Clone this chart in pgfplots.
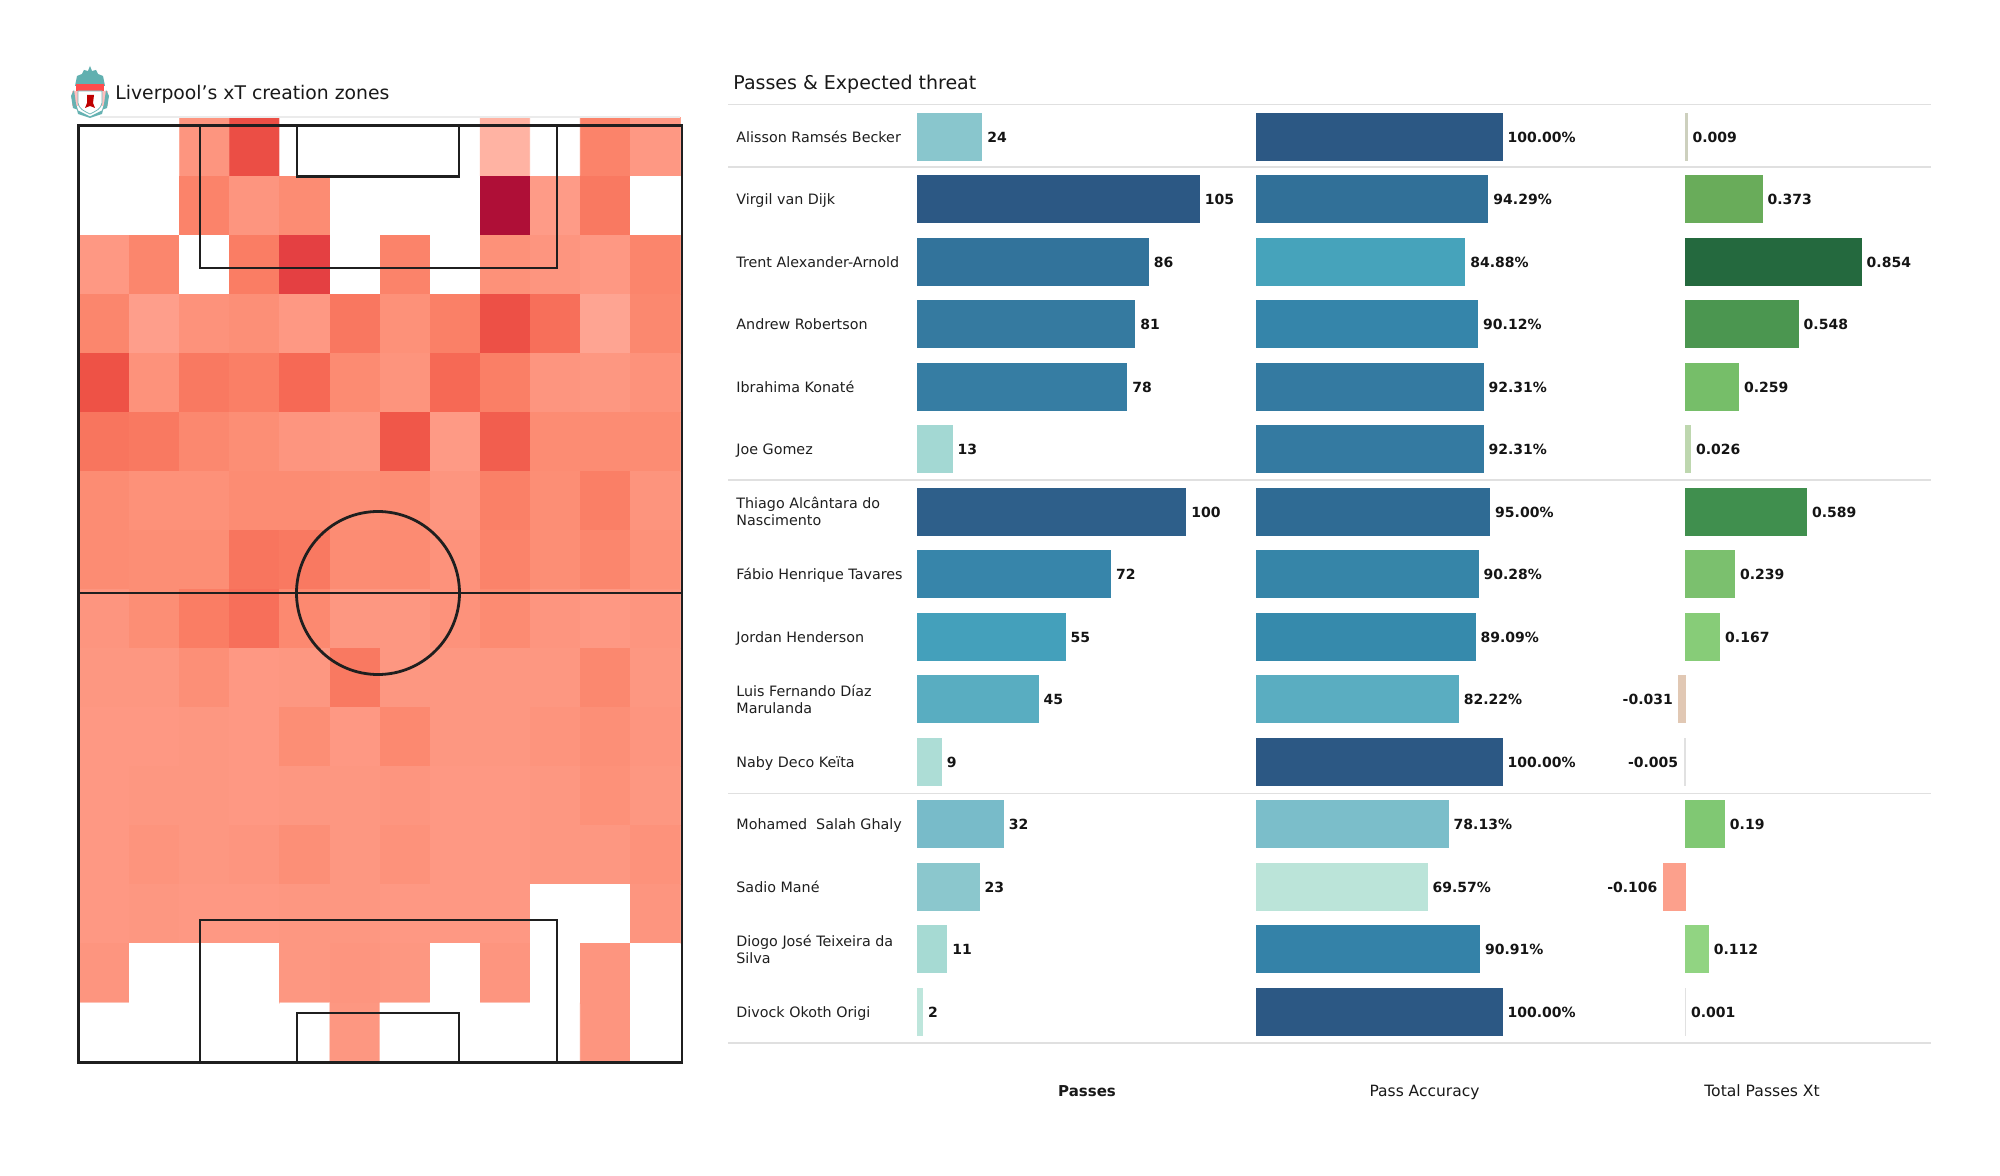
\documentclass[border=0pt]{standalone}
\usepackage{pgfplots}
\pgfplotsset{compat=1.18}
\usepackage{fontspec}
\setmainfont{DejaVu Sans}
\pgfplotsset{
  colormap={heat}{
    rgb255(0cm)=(255,255,255); rgb255(1cm)=(255,185,170); rgb255(2cm)=(254,155,135);
    rgb255(3cm)=(252,140,115); rgb255(4cm)=(250,125,100); rgb255(5cm)=(246,105,85);
    rgb255(6cm)=(238,82,70); rgb255(7cm)=(225,60,65); rgb255(8cm)=(208,42,60);
    rgb255(9cm)=(190,28,56); rgb255(10cm)=(175,15,55)},
  barax/.style={scale only axis,hide axis,clip=false,height=468.75pt,
    ymin=-0.5,ymax=14.5,y dir=reverse},
}
% one bar: [label anchor] value, row, label, r, g, b
\newcommand\pb[7][west]{\addplot[xbar,bar width=23.6pt,bar shift=0pt,line width=0.2pt,
  draw={rgb,255:red,#5;green,#6;blue,#7},fill={rgb,255:red,#5;green,#6;blue,#7},
  point meta=explicit symbolic,nodes near coords,
  nodes near coords style={anchor=#1,yshift=-0.3pt,font=\fontsize{7}{8}\selectfont\bfseries,text=black!92,inner xsep=2.8pt,inner ysep=0pt}]
  coordinates {(#2,#3) [#4]};}
\newcommand\nm[2]{\node[anchor=west,align=left,inner sep=0pt,yshift=-1.2pt,font=\fontsize{7.15}{8.6}\selectfont,text=black!88] at (736,#1) {\strut #2\strut};}
\begin{document}
\begin{tikzpicture}
\begin{scope}[x=0.5pt,y=-0.5pt,yshift=587.5pt]
\path[use as bounding box,fill=white] (0,0) rectangle (2000,1175);
\end{scope}
% ---------- heat map ----------
\begin{axis}[name=heat,at={(39.75pt,56.5pt)},anchor=south west,scale only axis,hide axis,
  width=300.5pt,height=472.5pt,xmin=-0.5,xmax=11.5,ymin=-0.5,ymax=15.5,y dir=reverse,
  colormap name=heat,point meta min=0,point meta max=100]
\addplot[matrix plot*,mesh/cols=12,point meta=explicit] table[meta=v,row sep=\\] {
x y v\\
0 0 0\\1 0 0\\2 0 24\\3 0 62\\4 0 0\\5 0 0\\6 0 0\\7 0 0\\8 0 12\\9 0 0\\10 0 36\\11 0 22\\
0 1 0\\1 1 0\\2 1 36\\3 1 24\\4 1 30\\5 1 0\\6 1 0\\7 1 0\\8 1 100\\9 1 20\\10 1 42\\11 1 0\\
0 2 22\\1 2 34\\2 2 0\\3 2 40\\4 2 68\\5 2 0\\6 2 36\\7 2 0\\8 2 27\\9 2 24\\10 2 22\\11 2 35\\
0 3 34\\1 3 19\\2 3 26\\3 3 28\\4 3 22\\5 3 43\\6 3 27\\7 3 38\\8 3 61\\9 3 47\\10 3 17\\11 3 33\\
0 4 60\\1 4 26\\2 4 42\\3 4 39\\4 4 50\\5 4 31\\6 4 25\\7 4 50\\8 4 39\\9 4 24\\10 4 23\\11 4 26\\
0 5 44\\1 5 42\\2 5 33\\3 5 29\\4 5 24\\5 5 23\\6 5 58\\7 5 21\\8 5 55\\9 5 30\\10 5 30\\11 5 30\\
0 6 30\\1 6 27\\2 6 27\\3 6 30\\4 6 30\\5 6 29\\6 6 30\\7 6 24\\8 6 38\\9 6 29\\10 6 39\\11 6 25\\
0 7 30\\1 7 29\\2 7 29\\3 7 44\\4 7 42\\5 7 30\\6 7 31\\7 7 26\\8 7 36\\9 7 29\\10 7 34\\11 7 27\\
0 8 24\\1 8 29\\2 8 40\\3 8 47\\4 8 32\\5 8 23\\6 8 23\\7 8 26\\8 8 31\\9 8 24\\10 8 22\\11 8 24\\
0 9 23\\1 9 23\\2 9 28\\3 9 22\\4 9 23\\5 9 42\\6 9 23\\7 9 23\\8 9 23\\9 9 23\\10 9 33\\11 9 23\\
0 10 22\\1 10 22\\2 10 23\\3 10 22\\4 10 29\\5 10 22\\6 10 32\\7 10 23\\8 10 23\\9 10 25\\10 10 28\\11 10 24\\
0 11 22\\1 11 23\\2 11 23\\3 11 22\\4 11 23\\5 11 23\\6 11 24\\7 11 22\\8 11 22\\9 11 23\\10 11 27\\11 11 23\\
0 12 22\\1 12 25\\2 12 23\\3 12 24\\4 12 28\\5 12 23\\6 12 26\\7 12 22\\8 12 22\\9 12 23\\10 12 23\\11 12 26\\
0 13 22\\1 13 23\\2 13 22\\3 13 22\\4 13 23\\5 13 23\\6 13 22\\7 13 22\\8 13 22\\9 13 0\\10 13 0\\11 13 24\\
0 14 24\\1 14 0\\2 14 0\\3 14 0\\4 14 23\\5 14 24\\6 14 23\\7 14 0\\8 14 24\\9 14 0\\10 14 24\\11 14 0\\
0 15 0\\1 15 0\\2 15 0\\3 15 0\\4 15 0\\5 15 23\\6 15 0\\7 15 0\\8 15 0\\9 15 0\\10 15 24\\11 15 0\\
};
\end{axis}
% ---------- passes ----------
\begin{axis}[barax,at={(458.5pt,66.125pt)},anchor=south west,width=150pt,xmin=0,xmax=111.69]
\pb{24}{0}{24}{137}{198}{205}
\pb{105}{1}{105}{44}{88}{132}
\pb{86}{2}{86}{50}{115}{155}
\pb{81}{3}{81}{53}{122}{160}
\pb{78}{4}{78}{54}{125}{163}
\pb{13}{5}{13}{163}{216}{211}
\pb{100}{6}{100}{46}{95}{138}
\pb{72}{7}{72}{55}{133}{170}
\pb{55}{8}{55}{68}{160}{187}
\pb{45}{9}{45}{89}{173}{193}
\pb{9}{10}{9}{173}{221}{214}
\pb{32}{11}{32}{120}{187}{201}
\pb{23}{12}{23}{139}{199}{205}
\pb{11}{13}{11}{166}{218}{211}
\pb{2}{14}{2}{190}{230}{220}
\end{axis}
% ---------- pass accuracy ----------
\begin{axis}[barax,at={(627.85pt,66.125pt)},anchor=south west,width=150pt,xmin=0,xmax=121.95]
\pb{100}{0}{100.00\%}{44}{88}{132}
\pb{94.29}{1}{94.29\%}{49}{112}{152}
\pb{84.88}{2}{84.88\%}{70}{163}{187}
\pb{90.12}{3}{90.12\%}{53}{133}{170}
\pb{92.31}{4}{92.31\%}{52}{122}{161}
\pb{92.31}{5}{92.31\%}{52}{122}{161}
\pb{95}{6}{95.00\%}{47}{107}{148}
\pb{90.28}{7}{90.28\%}{54}{133}{168}
\pb{89.09}{8}{89.09\%}{54}{138}{172}
\pb{82.22}{9}{82.22\%}{90}{173}{193}
\pb{100}{10}{100.00\%}{44}{88}{132}
\pb{78.13}{11}{78.13\%}{123}{190}{202}
\pb{69.57}{12}{69.57\%}{187}{228}{217}
\pb{90.91}{13}{90.91\%}{52}{130}{168}
\pb{100}{14}{100.00\%}{44}{88}{132}
\end{axis}
% ---------- xT ----------
\begin{axis}[barax,at={(780pt,66.125pt)},anchor=south west,width=200pt,xmin=-0.6068,xmax=1.335]
\pb{0.009}{0}{0.009}{205}{208}{190}
\pb{0.373}{1}{0.373}{105}{172}{90}
\pb{0.854}{2}{0.854}{36}{105}{62}
\pb{0.548}{3}{0.548}{75}{150}{80}
\pb{0.259}{4}{0.259}{118}{190}{105}
\pb{0.026}{5}{0.026}{190}{215}{175}
\pb{0.589}{6}{0.589}{64}{143}{78}
\pb{0.239}{7}{0.239}{123}{192}{110}
\pb{0.167}{8}{0.167}{135}{204}{120}
\pb[east]{-0.031}{9}{-0.031}{225}{200}{180}
\pb[east]{-0.005}{10}{-0.005}{225}{225}{225}
\pb{0.19}{11}{0.19}{128}{200}{115}
\pb[east]{-0.106}{12}{-0.106}{252}{160}{140}
\pb{0.112}{13}{0.112}{145}{212}{130}
\pb{0.001}{14}{0.001}{225}{225}{225}
\end{axis}
\begin{scope}[x=0.5pt,y=-0.5pt,yshift=587.5pt]
% pitch markings
\draw[line width=1.4pt,black!88] (78.5,125.5) rectangle (682,1062.5);
\draw[line width=1.4pt,black!88] (78.5,593) -- (682,593);
\draw[line width=1.4pt,black!88] (200,125.5) rectangle (557,268);
\draw[line width=1.4pt,black!88] (297,125.5) rectangle (459,176.5);
\draw[line width=1.4pt,black!88] (200,920) rectangle (557,1062.5);
\draw[line width=1.4pt,black!88] (297,1013) rectangle (459,1062.5);
\draw[line width=1.4pt,black!88] (378,593) circle [radius=81.5];
\draw[line width=0.6pt,black!8] (100,117) -- (680,117);
% separators
\foreach \yy in {104.5,167,480,793.5,1043}
  \draw[line width=0.8pt,black!12] (728,\yy) -- (1931,\yy);
% crest
\fill[teal!62!white] (75,86) -- (77,76) -- (82,74) -- (84,70) -- (88,71) -- (90,66) -- (92,71) -- (96,70) -- (98,74) -- (103,76) -- (105,86) -- cycle;
\fill[red!70!white] (76,84) rectangle (104,91);
\fill[red!25!white] (72,91) rectangle (108,106);
\fill[white,draw=teal!55,line width=0.4pt] (78,91) -- (102,91) -- (102,103) .. controls (101,109) and (96,111) .. (90,114) .. controls (84,111) and (79,109) .. (78,103) -- cycle;
\fill[red!75!black] (87,95) -- (94,95) -- (93,103) -- (95,108) -- (90,106) -- (85,108) -- (87,103) -- cycle;
\fill[teal!60!white] (71,96) -- (74,90) -- (76,104) -- (78,110) -- (73,108) -- cycle;
\fill[teal!60!white] (109,96) -- (106,90) -- (104,104) -- (102,110) -- (107,108) -- cycle;
\fill[teal!60!white] (77,110) -- (90,116.5) -- (103,110) -- (102,114) -- (90,118) -- (78,114) -- cycle;
% titles
\node[anchor=west,inner sep=0pt,yshift=-0.6pt,font=\fontsize{9.4}{11}\selectfont,text=black!90] at (115,94) {\strut Liverpool's xT creation zones};
\node[anchor=west,inner sep=0pt,yshift=-0.6pt,font=\fontsize{9.5}{11}\selectfont,text=black!90] at (733,84) {\strut Passes \& Expected threat};
% names
\nm{136.5}{Alisson Ramsés Becker}
\nm{199}{Virgil van Dijk}
\nm{261.5}{Trent Alexander-Arnold}
\nm{324}{Andrew Robertson}
\nm{386.5}{Ibrahima Konaté}
\nm{449}{Joe Gomez}
\nm{511.5}{Thiago Alcântara do\\Nascimento}
\nm{574}{Fábio Henrique Tavares}
\nm{636.5}{Jordan Henderson}
\nm{699}{Luis Fernando Díaz\\Marulanda}
\nm{761.5}{Naby Deco Keïta}
\nm{824}{Mohamed\ \ Salah Ghaly}
\nm{886.5}{Sadio Mané}
\nm{949}{Diogo José Teixeira da\\Silva}
\nm{1011.5}{Divock Okoth Origi}
% column names
\node[inner sep=0pt,yshift=-1.2pt,font=\fontsize{7.5}{9}\selectfont\bfseries,text=black!90] at (1087,1090) {\strut Passes};
\node[inner sep=0pt,yshift=-1.2pt,font=\fontsize{7.75}{9}\selectfont,text=black!90] at (1424.5,1090) {\strut Pass Accuracy};
\node[inner sep=0pt,yshift=-1.2pt,font=\fontsize{7.8}{9}\selectfont,text=black!90] at (1762,1090) {\strut Total Passes Xt};
\end{scope}
\end{tikzpicture}
\end{document}
